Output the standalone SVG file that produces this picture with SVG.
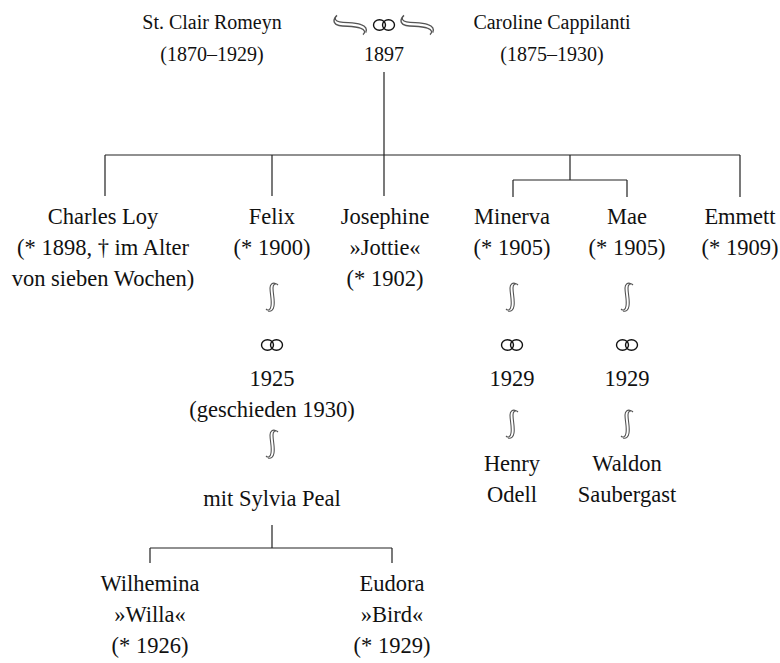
<svg xmlns="http://www.w3.org/2000/svg" xmlns:xlink="http://www.w3.org/1999/xlink" width="780" height="663" viewBox="0 0 780 663">
<style>
text{font-family:"Liberation Serif","Times New Roman",serif;font-size:22.5px;fill:#111;text-anchor:middle}
.p{font-size:20px}
.ln{stroke:#222;stroke-width:1.2;fill:none}
.wv{stroke:#555;stroke-width:1.1;fill:none}
.rg{stroke:#111;stroke-width:1.4;fill:none}
</style>
<defs>
<g id="wave">
<path class="wv" d="M4,-13 C1,-15 -2,-13 -2,-9 C-2,-3 0,3 -1,9 C-1.5,13 -4,14 -6,12"/>
<path class="wv" d="M6,-12 C3,-15 1,-12 1,-9 C1,-3 3,3 2,9 C1.5,13 -1,15 -4,14"/>
</g>
<g id="rings">
<ellipse class="rg" cx="-4.5" cy="0" rx="6" ry="5.2"/>
<ellipse class="rg" cx="4.5" cy="0" rx="6" ry="5.2"/>
</g>
</defs>
<g id="connectors">
<path class="ln" d="M384,72V155M105,155H740M105,155V196M272,155V196M384,155V196M570,155V180M513,180H627M513,180V197M627,180V197M740,155V197"/>
<path class="ln" d="M272,525V548M150,548H392M150,548V563M392,548V563"/>
</g>
<g id="parents">
<text class="p" x="212" y="29">St. Clair Romeyn</text>
<text class="p" x="212" y="61">(1870–1929)</text>
<use xlink:href="#wave" transform="translate(350,25) rotate(-80) scale(1.2)"/>
<use xlink:href="#rings" transform="translate(384,25)"/>
<use xlink:href="#wave" transform="translate(417,25) rotate(-80) scale(1.2)"/>
<text class="p" x="384" y="61">1897</text>
<text class="p" x="552" y="29">Caroline Cappilanti</text>
<text class="p" x="552" y="61">(1875–1930)</text>
</g>
<g id="charles">
<text x="103" y="224">Charles Loy</text>
<text x="103" y="255">(* 1898, † im Alter</text>
<text x="103" y="286">von sieben Wochen)</text>
</g>
<g id="felix">
<text x="272" y="224">Felix</text>
<text x="272" y="255">(* 1900)</text>
<use xlink:href="#wave" transform="translate(272,297)"/>
<use xlink:href="#rings" transform="translate(272,345)"/>
<text x="272" y="386">1925</text>
<text x="272" y="417">(geschieden 1930)</text>
<use xlink:href="#wave" transform="translate(272,444)"/>
<text x="272" y="506">mit Sylvia Peal</text>
</g>
<g id="josephine">
<text x="385" y="224">Josephine</text>
<text x="385" y="255">»Jottie«</text>
<text x="385" y="286">(* 1902)</text>
</g>
<g id="minerva">
<text x="512" y="224">Minerva</text>
<text x="512" y="255">(* 1905)</text>
<use xlink:href="#wave" transform="translate(512,297)"/>
<use xlink:href="#rings" transform="translate(512,345)"/>
<text x="512" y="386">1929</text>
<use xlink:href="#wave" transform="translate(512,424)"/>
<text x="512" y="471">Henry</text>
<text x="512" y="502">Odell</text>
</g>
<g id="mae">
<text x="627" y="224">Mae</text>
<text x="627" y="255">(* 1905)</text>
<use xlink:href="#wave" transform="translate(627,297)"/>
<use xlink:href="#rings" transform="translate(627,345)"/>
<text x="627" y="386">1929</text>
<use xlink:href="#wave" transform="translate(627,424)"/>
<text x="627" y="471">Waldon</text>
<text x="627" y="502">Saubergast</text>
</g>
<g id="emmett">
<text x="740" y="224">Emmett</text>
<text x="740" y="255">(* 1909)</text>
</g>
<g id="wilhemina">
<text x="150" y="591">Wilhemina</text>
<text x="150" y="622">»Willa«</text>
<text x="150" y="653">(* 1926)</text>
</g>
<g id="eudora">
<text x="392" y="591">Eudora</text>
<text x="392" y="622">»Bird«</text>
<text x="392" y="653">(* 1929)</text>
</g>
</svg>
